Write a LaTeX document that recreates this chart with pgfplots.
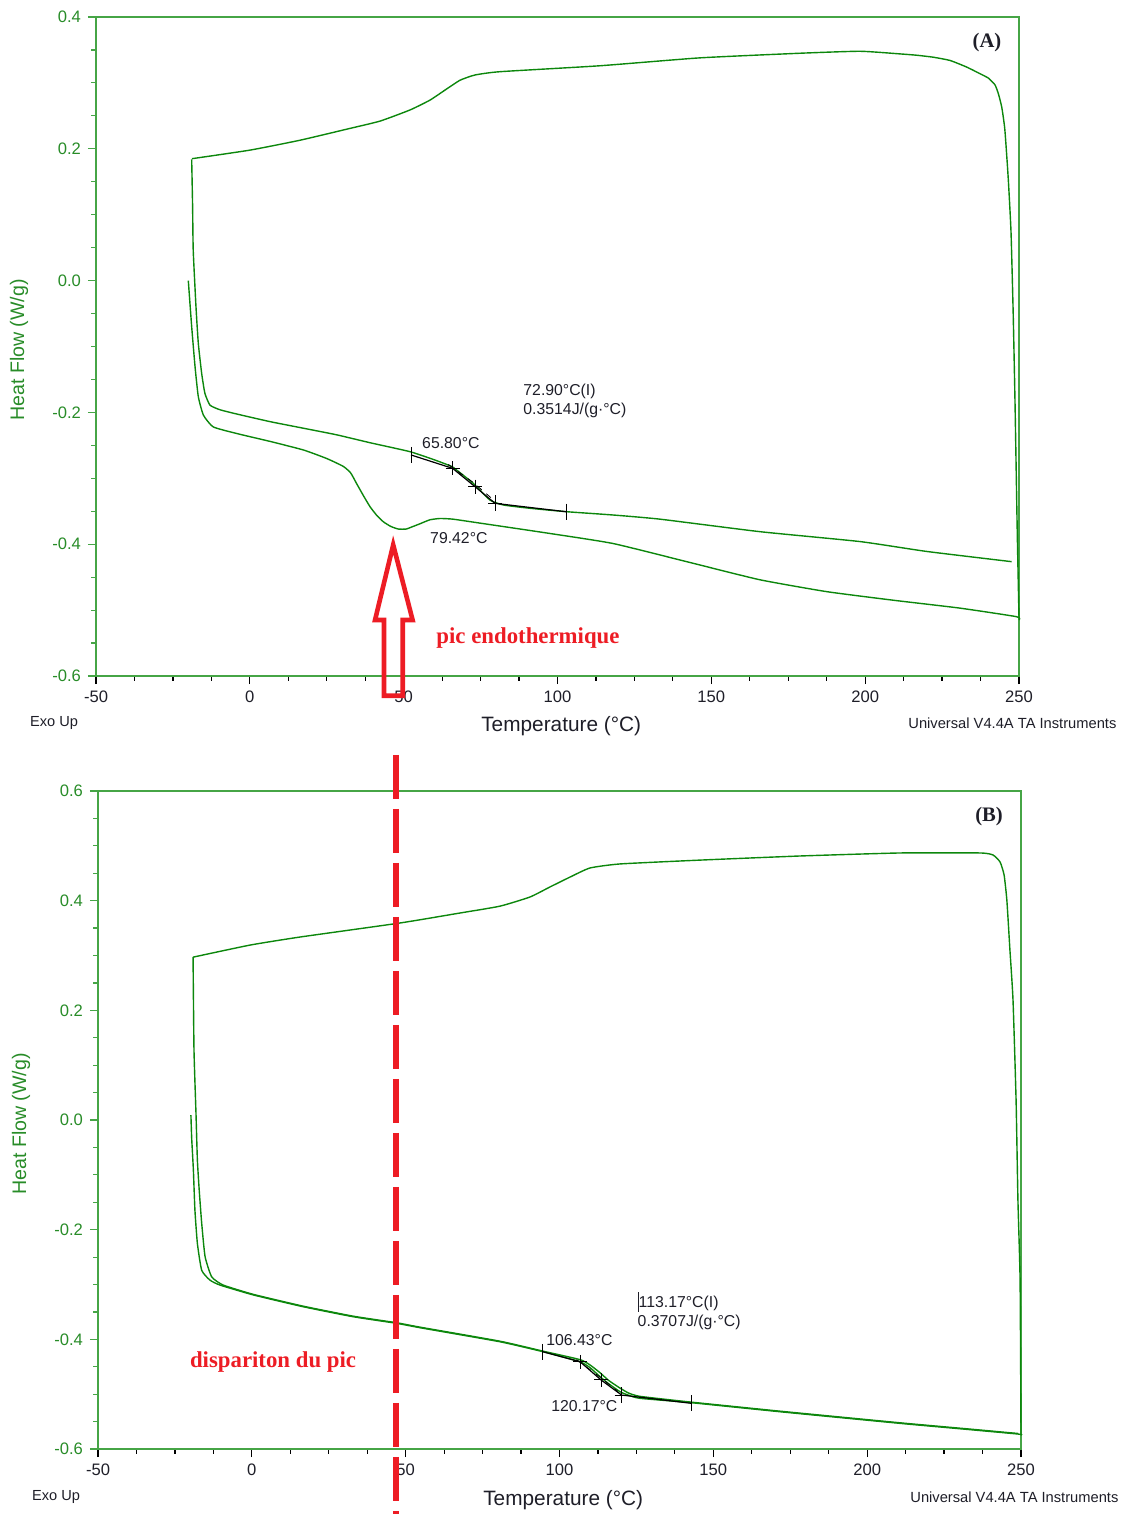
\documentclass[border=0pt]{standalone}
\usepackage{pgfplots}
\pgfplotsset{compat=1.18}
\usepackage{fontspec}
\setmainfont{Liberation Sans}
\newfontfamily\serifbf{Liberation Serif}[BoldFont={Liberation Serif Bold}]
\definecolor{curve}{RGB}{12,135,12}
\definecolor{axgreen}{RGB}{70,165,70}
\definecolor{labgreen}{RGB}{40,140,40}
\definecolor{annred}{RGB}{237,28,36}
\definecolor{txt}{RGB}{30,30,40}

\pgfplotsset{dsc/.style={
  scale only axis, width=461.5pt,
  xmin=-50, xmax=250,
  xtick={-50,0,50,100,150,200,250},
  xticklabels={-50,0,50,100,150,200,250},
  minor x tick num=3, minor y tick num=3,
  tick align=outside, xtick pos=bottom, ytick pos=left,
  major tick length=4pt, minor tick length=2.3pt,
  x axis line style={black, line width=0.6pt},
  y axis line style={axgreen, line width=0.9pt},
  x tick style={black, line width=0.6pt},
  y tick style={axgreen, line width=0.6pt},
  tick label style={font=\fontsize{8.3}{9}\selectfont},
  xticklabel style={txt},
  yticklabel style={labgreen},
  /pgf/number format/assume math mode=true,
  clip=false,
  every axis plot/.append style={line width=0.7pt},
}}
\tikzset{trace/.style={curve, mark=none, smooth, tension=0.3},
  ann/.style={anchor=west, inner sep=0pt, font=\fontsize{7.9}{9.5}\selectfont, txt}}

\begin{document}
\begin{tikzpicture}
\useasboundingbox (0,0) rectangle (562pt,-757pt);

% ---------- (A) ----------
\begin{axis}[dsc, at={(48pt,-8.5pt)}, anchor=north west, height=329.5pt,
  ymin=-0.6, ymax=0.4,
  ytick={-0.6,-0.4,-0.2,0,0.2,0.4},
  yticklabels={-0.6,-0.4,-0.2,0.0,0.2,0.4}]
% first heating
\addplot[trace] coordinates {
(-20.0,0.000) (-18.9,-0.070) (-17.8,-0.131) (-16.75,-0.176) (-15.1,-0.204)
(-11.9,-0.222) (-4.3,-0.232) (6.55,-0.244) (17.4,-0.257) (25,-0.270)
(30.4,-0.282) (32.8,-0.292) (34.7,-0.308) (37,-0.327) (39.05,-0.343)
(41.2,-0.356) (43.4,-0.366) (45.8,-0.373) (48.25,-0.377) (50.8,-0.377)
(53.1,-0.373) (55.3,-0.369) (58.5,-0.363) (61.8,-0.361) (66,-0.362)
(74.8,-0.368) (96.5,-0.383) (118.1,-0.399) (144.1,-0.429) (165.8,-0.454)
(187.5,-0.472) (209.1,-0.485) (230.8,-0.497) (249.2,-0.510) (250,-0.515)};
% cooling
\addplot[trace] coordinates {
(250,-0.512) (249.45,-0.387) (248.7,-0.184) (248.1,-0.048) (247.4,0.074)
(246.5,0.155) (245.4,0.229) (244.4,0.263) (243.3,0.2835) (242.2,0.297)
(240,0.3074) (237.3,0.314) (233,0.324) (227.6,0.334) (222.1,0.339)
(216.7,0.342) (211.3,0.344) (198.3,0.348) (178.8,0.345) (146.3,0.338)
(113.8,0.326) (81.3,0.317) (73.2,0.312) (68.3,0.304) (63.4,0.289)
(58.6,0.274) (52.1,0.259) (42.3,0.242) (32.6,0.231) (16.3,0.213)
(0.05,0.198) (-18.8,0.185)};
% second heating
\addplot[trace] coordinates {
(-18.9,0.184) (-18.6,0.112) (-18.4,0.046) (-17.5,-0.040) (-16.75,-0.095)
(-15.65,-0.141) (-14.6,-0.171) (-12.95,-0.189) (-9.7,-0.196) (-4.3,-0.2024)
(6.55,-0.214) (17.4,-0.224) (28.2,-0.234) (39.05,-0.246) (52.05,-0.2596)
(60,-0.272) (65.6,-0.282) (67.2,-0.2874) (72.6,-0.3076) (78.05,-0.333)
(82.4,-0.3405) (91.05,-0.3455) (103,-0.3507) (118.1,-0.3557) (133.3,-0.362)
(165.8,-0.381) (198.3,-0.396) (220,-0.411) (247.6,-0.4265)};
% tangent construction
\addplot[black, line width=0.6pt, mark=none] coordinates {
(52.4,-0.2646) (65.9,-0.2849) (73.2,-0.3127) (79.7,-0.338) (102.8,-0.3507)};
\addplot[black, line width=0.4pt, dashed, mark=none] coordinates {
(64.5,-0.279) (72.5,-0.306) (79,-0.332)};
\addplot[black, only marks, mark=|, mark size=4pt, mark options={line width=0.5pt}] coordinates {
(52.4,-0.2646) (79.7,-0.338) (102.8,-0.3507)};
\addplot[black, only marks, mark=+, mark size=3.5pt, mark options={line width=0.5pt}] coordinates {
(65.9,-0.2849) (73.2,-0.3127) (79.7,-0.338)};

\node[ann] at (axis cs:55.9,-0.2465) {65.80°C};
\node[ann] at (axis cs:58.5,-0.3906) {79.42°C};
\node[ann, align=left] at (axis cs:88.8,-0.1825) {72.90°C(I)\\0.3514J/(g·°C)};
\node[font=\serifbf\bfseries\fontsize{10.3}{12}\selectfont, txt] at (axis cs:239.6,0.3605) {(A)};
\node[font=\serifbf\bfseries\fontsize{11.4}{13}\selectfont, annred] at (axis cs:90.4,-0.5423) {pic endothermique};
% hollow arrow
\draw[annred, line width=2.3pt, line join=miter] (axis cs:46.6,-0.401) -- (axis cs:52.9,-0.515) -- (axis cs:49.7,-0.515)
  -- (axis cs:49.7,-0.630) -- (axis cs:43.6,-0.630) -- (axis cs:43.6,-0.515) -- (axis cs:40.7,-0.515) -- cycle;

\node[font=\fontsize{10.4}{12}\selectfont, txt] at (rel axis cs:0.504,-0.0759) {Temperature (°C)};
\node[font=\fontsize{7.3}{8}\selectfont, txt] at (rel axis cs:-0.0455,-0.0713) {Exo Up};
\node[anchor=east, inner sep=0pt, font=\fontsize{7.35}{8}\selectfont, txt] at (rel axis cs:1.106,-0.0713) {Universal V4.4A TA Instruments};
\node[rotate=90, font=\fontsize{9.8}{11}\selectfont, labgreen] at (rel axis cs:-0.0834,0.4947) {Heat Flow (W/g)};
\end{axis}

% ---------- (B) ----------
\begin{axis}[dsc, at={(49pt,-395.5pt)}, anchor=north west, height=329pt,
  ymin=-0.6, ymax=0.6,
  ytick={-0.6,-0.4,-0.2,0,0.2,0.4,0.6},
  yticklabels={-0.6,-0.4,-0.2,0.0,0.2,0.4,0.6}]
% first heating
\addplot[trace] coordinates {
(-19.8,0.009) (-19.55,-0.033) (-19.0,-0.091) (-18.5,-0.164) (-17.7,-0.225)
(-16.3,-0.274) (-13.6,-0.292) (-10.35,-0.301) (0.5,-0.319) (16.7,-0.3405)
(33,-0.3588) (47.1,-0.3708) (54.7,-0.3788) (80.66,-0.4044) (94.7,-0.4226)
(106.7,-0.4409) (110,-0.452) (113.2,-0.4682) (116,-0.481) (119.7,-0.4956)
(122.5,-0.502) (126.2,-0.5076) (143,-0.5156) (171.7,-0.532) (210.7,-0.5532)
(232.3,-0.5641) (249.1,-0.5727) (250,-0.5745)};
% cooling
\addplot[trace] coordinates {
(250,-0.5745) (249.7,-0.292) (249,-0.146) (248.4,0.036) (247.4,0.219)
(246.4,0.31) (245.4,0.401) (244.5,0.447) (243.2,0.4705) (240.9,0.4833)
(236.7,0.487) (210.7,0.487) (178.2,0.4815) (145.7,0.474) (119.7,0.467)
(109.9,0.4596) (103.4,0.443) (96.9,0.425) (90.4,0.4067) (80.65,0.390)
(67.65,0.3775) (48.15,0.3593) (15.65,0.3337) (-0.6,0.319) (-19.1,0.297)};
% second heating
\addplot[trace] coordinates {
(-19.1,0.297) (-18.8,0.1276) (-18.15,0.012) (-17.7,-0.073) (-17.1,-0.128)
(-16.3,-0.188) (-15.2,-0.249) (-13.05,-0.286) (-9.3,-0.301) (0.5,-0.318)
(16.7,-0.3395) (33,-0.3578) (47.1,-0.3698) (54.7,-0.3778) (80.66,-0.4034)
(94.7,-0.4216) (106.7,-0.437) (110,-0.447) (113.2,-0.461) (116,-0.475)
(119.7,-0.489) (122.5,-0.498) (126.2,-0.504) (143,-0.5146) (171.7,-0.531)
(210.7,-0.5522) (232.3,-0.5631) (249.1,-0.5717)};
% tangent construction
\addplot[black, line width=0.6pt, mark=none] coordinates {
(94.6,-0.4226) (106.7,-0.4409) (113.5,-0.474) (120.2,-0.5016) (142.96,-0.5167)};
\addplot[black, line width=0.4pt, dashed, mark=none] coordinates {
(105.5,-0.437) (112.5,-0.466) (119,-0.495)};
\addplot[black, only marks, mark=|, mark size=4pt, mark options={line width=0.5pt}] coordinates {
(94.6,-0.4226) (120.2,-0.5016) (142.96,-0.5167)};
\addplot[black, only marks, mark=+, mark size=3.5pt, mark options={line width=0.5pt}] coordinates {
(106.7,-0.4409) (113.5,-0.474) (120.2,-0.5016)};

\node[ann] at (axis cs:95.6,-0.401) {106.43°C};
\node[ann] at (axis cs:97.2,-0.5217) {120.17°C};
\node[ann, align=left] at (axis cs:125.3,-0.3483) {\rule[-2pt]{0.5pt}{10pt}113.17°C(I)\\0.3707J/(g·°C)};
\node[font=\serifbf\bfseries\fontsize{10.3}{12}\selectfont, txt] at (axis cs:239.6,0.5526) {(B)};
\node[font=\serifbf\bfseries\fontsize{11.4}{13}\selectfont, annred] at (axis cs:6.9,-0.4414) {dispariton du pic};
\draw[annred, line width=3pt, dash pattern=on 22pt off 5pt] (axis cs:46.86,0.6657) -- (axis cs:46.86,-0.7186);

\node[font=\fontsize{10.4}{12}\selectfont, txt] at (rel axis cs:0.504,-0.0775) {Temperature (°C)};
\node[font=\fontsize{7.3}{8}\selectfont, txt] at (rel axis cs:-0.0455,-0.0729) {Exo Up};
\node[anchor=east, inner sep=0pt, font=\fontsize{7.35}{8}\selectfont, txt] at (rel axis cs:1.106,-0.0729) {Universal V4.4A TA Instruments};
\node[rotate=90, font=\fontsize{9.8}{11}\selectfont, labgreen] at (rel axis cs:-0.0834,0.494) {Heat Flow (W/g)};
\end{axis}
\end{tikzpicture}
\end{document}
